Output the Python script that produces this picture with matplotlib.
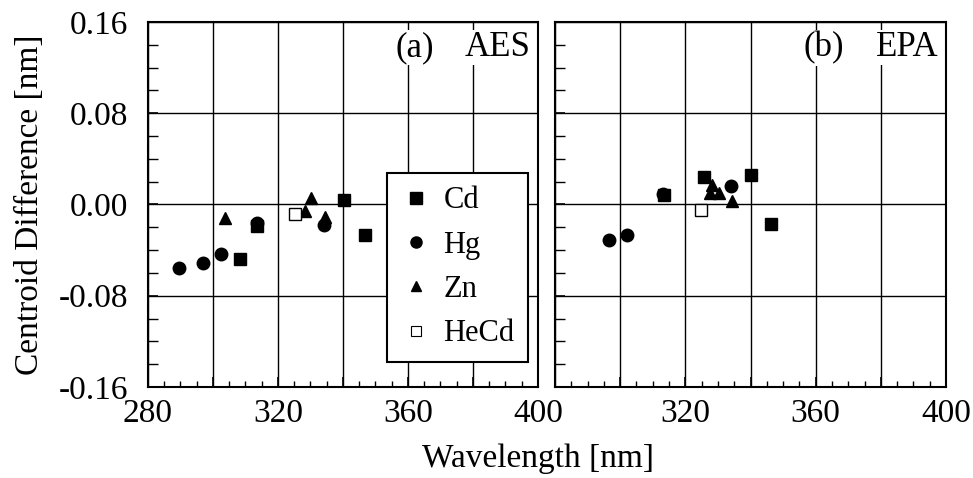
import matplotlib
matplotlib.use("Agg")
import matplotlib.pyplot as plt
from matplotlib.ticker import MultipleLocator, FuncFormatter
from matplotlib.lines import Line2D

plt.rcParams.update({
    "font.family": ["Liberation Serif", "DejaVu Serif"],
    "font.size": 24,
    "axes.unicode_minus": False,
    "axes.linewidth": 1.5,
})

# ── Data (wavelength nm, centroid difference nm) ───────────
# (a) AES
aes_cd_x = [308.4, 313.5, 340.4, 346.7]
aes_cd_y = [-0.048, -0.019, 0.004, -0.0265]
aes_hg_x = [289.6, 296.9, 302.6, 313.5, 334.3]
aes_hg_y = [-0.0555, -0.051, -0.0435, -0.016, -0.018]
aes_zn_x = [303.8, 328.4, 330.3, 334.5]
aes_zn_y = [-0.012, -0.006, 0.006, -0.011]
aes_hecd_x = [325.2]
aes_hecd_y = [-0.008]

# (b) EPA
epa_cd_x = [313.5, 325.7, 340.0, 346.3]
epa_cd_y = [0.008, 0.0245, 0.026, -0.0175]
epa_hg_x = [296.7, 302.2, 313.0, 333.9]
epa_hg_y = [-0.031, -0.027, 0.009, 0.0165]
epa_zn_x = [328.3, 327.6, 330.4, 334.4]
epa_zn_y = [0.017, 0.010, 0.010, 0.003]
epa_hecd_x = [324.7]
epa_hecd_y = [-0.005]

XLIM = (280, 400)
YLIM = (-0.16, 0.16)

fig = plt.figure(figsize=(9.73, 4.78), dpi=100)
ax1 = fig.add_axes([0.1521, 0.1904, 0.4008, 0.7636])
ax2 = fig.add_axes([0.5704, 0.1904, 0.4019, 0.7636])

sets = [
    (ax1, aes_cd_x, aes_cd_y, aes_hg_x, aes_hg_y, aes_zn_x, aes_zn_y, aes_hecd_x, aes_hecd_y, "(a)", "AES"),
    (ax2, epa_cd_x, epa_cd_y, epa_hg_x, epa_hg_y, epa_zn_x, epa_zn_y, epa_hecd_x, epa_hecd_y, "(b)", "EPA"),
]

for ax, cx, cy, hx, hy, zx, zy, ex, ey, tag, name in sets:
    ax.set_xlim(*XLIM)
    ax.set_ylim(*YLIM)
    ax.xaxis.set_major_locator(MultipleLocator(20))
    ax.xaxis.set_minor_locator(MultipleLocator(5))
    ax.yaxis.set_major_locator(MultipleLocator(0.08))
    ax.yaxis.set_minor_locator(MultipleLocator(0.02))
    ax.grid(True, which="major", color="black", linewidth=1.0)
    ax.set_axisbelow(True)
    ax.tick_params(which="both", direction="in", top=False, right=False)
    ax.tick_params(which="major", length=7, width=1.2)
    ax.tick_params(which="minor", length=4, width=1.0)
    ax.tick_params(axis="y", which="minor", length=7)
    ax.tick_params(axis="x", pad=8)
    ax.tick_params(axis="y", pad=14)

    ax.plot(cx, cy, "s", color="black", markersize=9, linestyle="none", zorder=3)
    ax.plot(hx, hy, "o", color="black", markersize=9, linestyle="none", zorder=3)
    ax.plot(zx, zy, "^", color="black", markersize=9, linestyle="none", zorder=3)
    ax.plot(ex, ey, "s", markerfacecolor="white", markeredgecolor="black",
            markeredgewidth=1.0, markersize=8, linestyle="none", zorder=3)

    # panel label, with the wide gap of the original
    ax.text(0.635, 0.93, tag, transform=ax.transAxes, ha="left", va="center",
            fontsize=25, bbox=dict(facecolor="white", edgecolor="none", pad=1))
    ax.text(0.98, 0.93, name, transform=ax.transAxes, ha="right", va="center",
            fontsize=25, bbox=dict(facecolor="white", edgecolor="none", pad=1))

ax1.xaxis.set_major_formatter(FuncFormatter(lambda v, p: f"{v:.0f}" if v % 40 == 0 else ""))
ax2.xaxis.set_major_formatter(FuncFormatter(lambda v, p: f"{v:.0f}" if v % 40 == 0 and v > 280 else ""))
ax1.yaxis.set_major_formatter(FuncFormatter(lambda v, p: f"{v:.2f}"))
ax2.set_yticklabels([])

ax1.set_ylabel("Centroid Difference [nm]", labelpad=10)
fig.text(0.553, 0.04, "Wavelength [nm]", ha="center", va="center", fontsize=24)

handles = [
    Line2D([], [], marker="s", color="black", linestyle="none", markersize=8, label="Cd"),
    Line2D([], [], marker="o", color="black", linestyle="none", markersize=8, label="Hg"),
    Line2D([], [], marker="^", color="black", linestyle="none", markersize=7, label="Zn"),
    Line2D([], [], marker="s", markerfacecolor="white", markeredgecolor="black",
           markeredgewidth=0.8, linestyle="none", markersize=7, label="HeCd"),
]
leg = ax1.legend(handles=handles, loc="upper left", bbox_to_anchor=(0.613, 0.587),
                 borderaxespad=0, fontsize=22, frameon=True, fancybox=False, framealpha=1,
                 edgecolor="black", labelspacing=0.5, handletextpad=0.4, borderpad=0.45,
                 handlelength=1.0)
leg.get_frame().set_linewidth(1.5)
leg.set_zorder(5)

fig.savefig("out.png", dpi=100)
